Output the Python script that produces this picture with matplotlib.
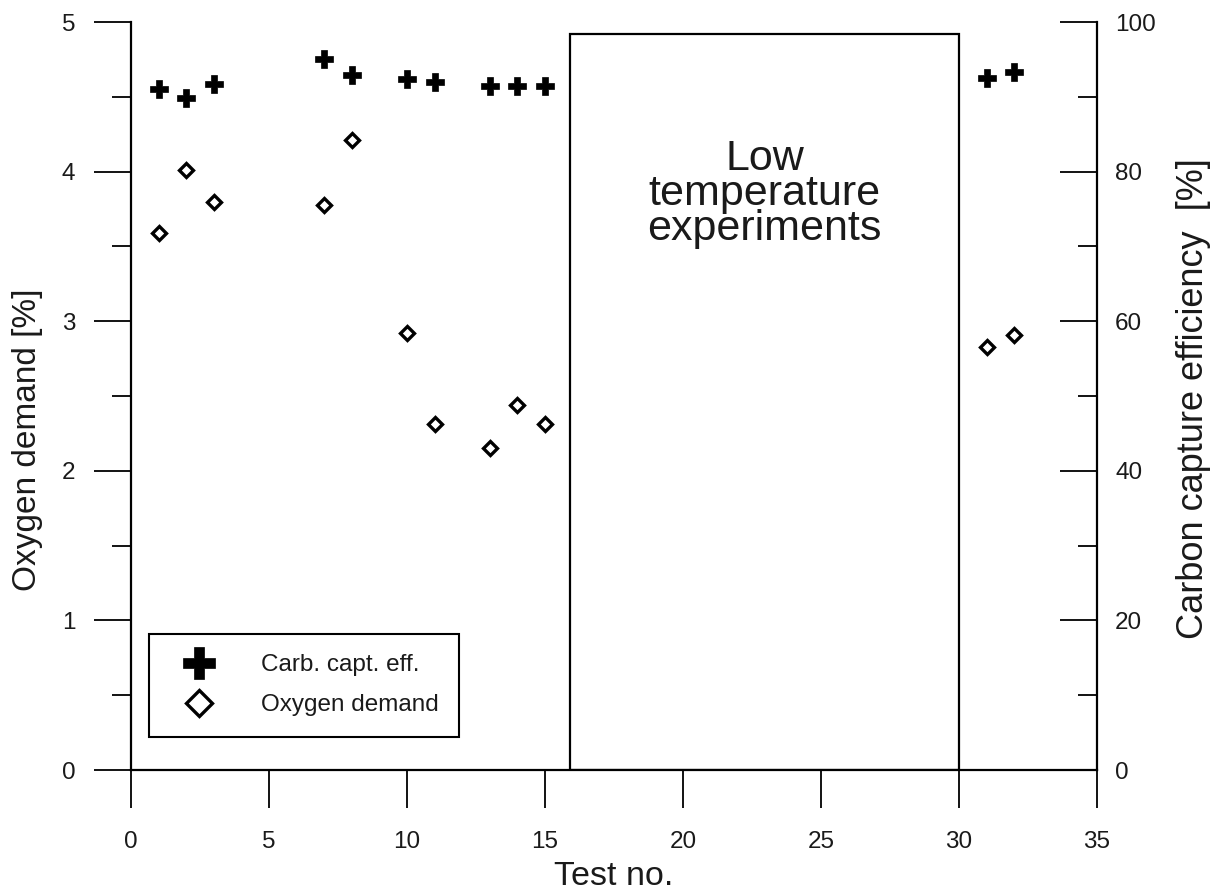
import matplotlib
matplotlib.use("Agg")
import matplotlib.pyplot as plt
from matplotlib.patches import Rectangle
from matplotlib.lines import Line2D

plt.rcParams['font.family'] = ['Liberation Sans', 'DejaVu Sans']

# carbon capture efficiency [%] (right axis)
test_cce = [1, 2, 3, 7, 8, 10, 11, 13, 14, 15, 31, 32]
cce = [91.1, 89.8, 91.7, 95.0, 92.9, 92.4, 92.0, 91.5, 91.5, 91.5, 92.5, 93.3]

# oxygen demand [%] (left axis)
test_o2 = [1, 2, 3, 7, 8, 10, 11, 13, 14, 15, 31, 32]
o2 = [3.59, 4.01, 3.80, 3.78, 4.21, 2.92, 2.31, 2.15, 2.44, 2.31, 2.83, 2.91]

# low temperature block
lowT_start, lowT_end, lowT_top = 15.9, 30.0, 4.92

fig = plt.figure(figsize=(12.24, 8.93), dpi=100)
ax = fig.add_axes([0.1070, 0.1377, 0.7892, 0.8376])
ax2 = ax.twinx()

ax.set_xlim(0, 35)
ax.set_ylim(0, 5)
ax2.set_ylim(0, 100)

txtc = '#1a1a1a'

# box for low temperature experiments
ax.add_patch(Rectangle((lowT_start, 0), lowT_end - lowT_start, lowT_top,
                       facecolor='white', edgecolor='black', lw=1.6, zorder=1))
ax.text((lowT_start + lowT_end) / 2, 3.85, "Low\ntemperature\nexperiments",
        ha='center', va='center', fontsize=31, color=txtc, linespacing=0.85)

ax.plot(test_o2, o2, ls='none', marker='D', ms=7.5, mfc='white', mec='black',
        mew=2.4, zorder=3)
ax2.plot(test_cce, cce, ls='none', marker='P', ms=13.5, mfc='black', mec='black',
         mew=0.5, zorder=3)

# spines
for a in (ax, ax2):
    a.spines['top'].set_visible(False)
    a.spines['left'].set_linewidth(1.6)
    a.spines['right'].set_linewidth(1.6)
    a.spines['bottom'].set_linewidth(1.6)
ax.spines['right'].set_visible(False)
ax2.spines['left'].set_visible(False)
ax2.spines['bottom'].set_visible(False)

ax.set_xticks(range(0, 36, 5))
ax.set_yticks(range(0, 6))
ax.set_yticks([0.5, 1.5, 2.5, 3.5, 4.5], minor=True)
ax2.set_yticks(range(0, 101, 20))
ax2.set_yticks(range(10, 100, 20), minor=True)

ax.tick_params(axis='x', direction='out', length=27, width=1.3, pad=17,
               labelsize=17.5, labelcolor=txtc)
ax.tick_params(axis='y', which='major', direction='out', length=27, width=1.3,
               pad=13, labelsize=17.5, labelcolor=txtc)
ax.tick_params(axis='y', which='minor', direction='out', length=14, width=1.3)
ax2.tick_params(axis='y', which='major', direction='in', length=27, width=1.3,
                pad=13, labelsize=17.5, labelcolor=txtc)
ax2.tick_params(axis='y', which='minor', direction='in', length=14, width=1.3)

ax.set_xlabel("Test no.", fontsize=24.5, color=txtc)
ax.xaxis.set_label_coords(0.5, -0.142)
ax.xaxis.label.set_va('center')
ax.set_ylabel("Oxygen demand [%]", fontsize=24, color=txtc)
ax.yaxis.set_label_coords(-0.107, 0.441)
ax.yaxis.label.set_va('center')
ax2.set_ylabel("Carbon capture efficiency  [%]", fontsize=26, color=txtc,
               rotation=90)
ax2.yaxis.set_label_coords(1.1, 0.496)
ax2.yaxis.label.set_va('center')

handles = [
    Line2D([], [], ls='none', marker='P', ms=13.5, mfc='black', mec='black', mew=0.5),
    Line2D([], [], ls='none', marker='D', ms=7.5, mfc='white', mec='black', mew=2.4),
]
leg = ax2.legend(handles, ["Carb. capt. eff.", "Oxygen demand"], loc='lower left',
                 bbox_to_anchor=(0.0186, 0.044), borderaxespad=0, fontsize=17.5,
                 markerscale=1.7, fancybox=False, framealpha=1, edgecolor='black',
                 handletextpad=1.3, borderpad=0.85, labelspacing=0.75,
                 handlelength=2.45)
leg.get_frame().set_linewidth(1.5)
for t in leg.get_texts():
    t.set_color(txtc)

fig.savefig("out.png", dpi=100)
